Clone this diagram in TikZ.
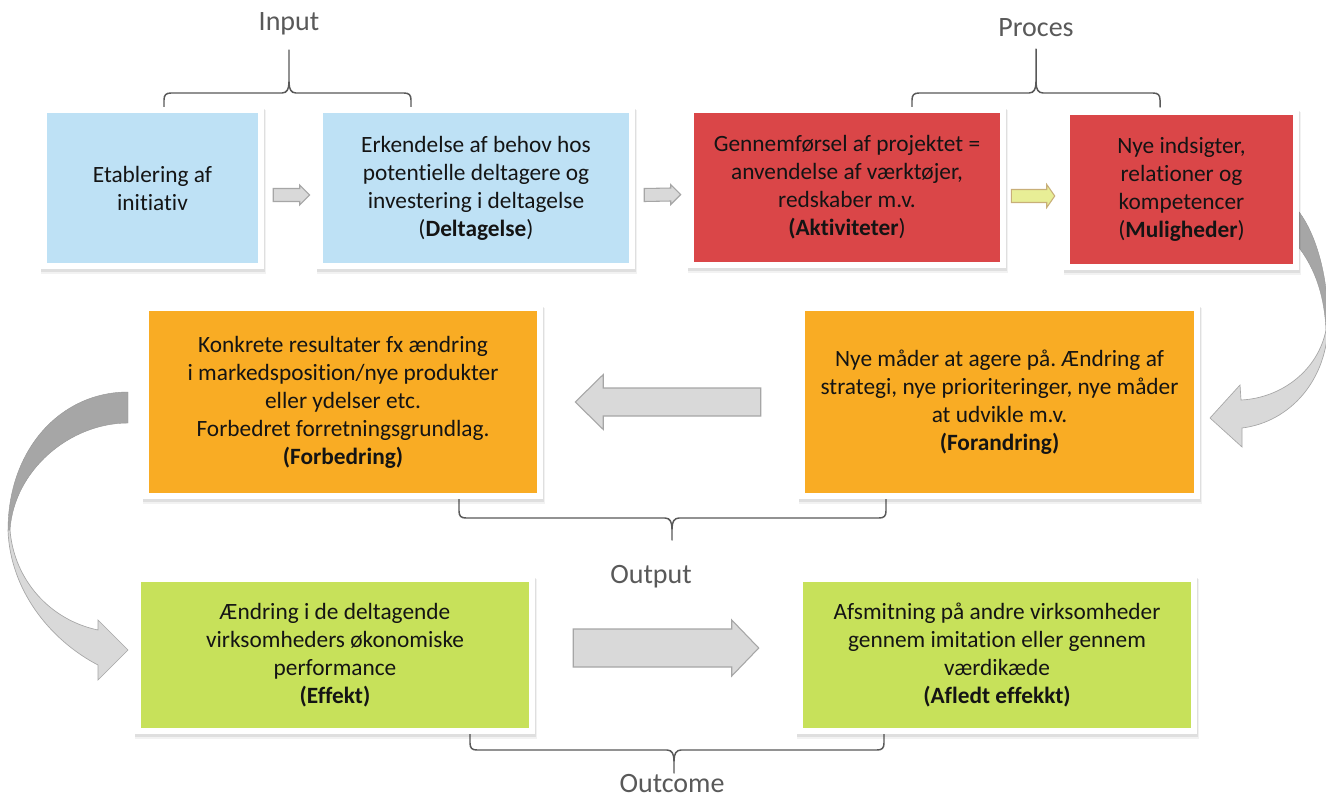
\documentclass[tikz,border=0pt]{standalone}
\usepackage{fontspec}
\setmainfont{Carlito}[Ligatures=NoCommon]
\usetikzlibrary{calc}
\frenchspacing

\definecolor{boxblue}{RGB}{190,225,245}
\definecolor{boxred}{RGB}{218,70,72}
\definecolor{boxorange}{RGB}{249,172,36}
\definecolor{boxgreen}{RGB}{199,225,90}
\definecolor{arrowfill}{RGB}{217,217,217}
\definecolor{arrowline}{RGB}{166,166,166}
\definecolor{arrowdark}{RGB}{166,166,166}
\definecolor{bracegray}{RGB}{89,89,89}
\definecolor{labelgray}{RGB}{89,89,89}
\definecolor{yellowfill}{RGB}{232,238,150}
\definecolor{yellowline}{RGB}{200,175,120}
\definecolor{textdark}{RGB}{20,20,20}

\tikzset{
  card/.style={rectangle, inner sep=0pt, fill=#1, align=center, text=textdark,
    font=\fontsize{17.5}{21}\selectfont,
    preaction={draw=black, draw opacity=0.05, line width=10.5pt, transform canvas={shift={(0.6pt,-3.0pt)}}},
    preaction={draw=black, draw opacity=0.08, line width=9.6pt, transform canvas={shift={(0.3pt,-2.0pt)}}},
    preaction={draw=black!8, line width=9.5pt},
    preaction={draw=white, line width=9pt}},
  brace/.style={draw=bracegray, line width=1.1pt, line cap=round, line join=round},
  grouplabel/.style={text=labelgray, font=\fontsize{21}{25}\selectfont, inner sep=0pt},
  grayarrow/.style={fill=arrowfill, draw=arrowline, line width=0.8pt, line join=miter},
  yellowarrow/.style={fill=yellowfill, draw=yellowline, line width=0.8pt, line join=miter},
  bandback/.style={fill=arrowdark, draw=arrowline!90!black, line width=0.3pt},
  bandfront/.style={fill=arrowfill, draw=arrowline, line width=0.5pt, line join=miter},
}

% straight block arrow: style, tail, tip, shaft half width, head half width, signed head length
\newcommand\blockarrow[6]{%
  \path[#1] ($(#2)+(0,-#4)$) -- ($(#3)+({-(#6)},-#4)$) -- ($(#3)+({-(#6)},-#5)$) -- (#3)
    -- ($(#3)+({-(#6)},#5)$) -- ($(#3)+({-(#6)},#4)$) -- ($(#2)+(0,#4)$) -- cycle;}

\begin{document}
\begin{tikzpicture}[x=0.75pt,y=-0.75pt]
\fill[white] (0,0) rectangle (1326,800);
\useasboundingbox (0,0) rectangle (1326,800);

% group braces
\draw[brace] (164,107) -- (164,100) .. controls (164,95) and (166,93) .. (171,93) -- (282,93)
  .. controls (287,93) and (289,89) .. (289,82) -- (289,50);
\draw[brace] (411,107) -- (411,100) .. controls (411,95) and (409,93) .. (404,93) -- (296,93)
  .. controls (291,93) and (289,89) .. (289,82);
\draw[brace] (912,107) -- (912,100) .. controls (912,95) and (914,93) .. (919,93) -- (1029,93)
  .. controls (1034,93) and (1036,89) .. (1036,82) -- (1036,49);
\draw[brace] (1160,107) -- (1160,100) .. controls (1160,95) and (1158,93) .. (1153,93) -- (1043,93)
  .. controls (1038,93) and (1036,89) .. (1036,82);
\draw[brace] (459,498) -- (459,511) .. controls (459,516) and (461,518) .. (466,518) -- (665,518)
  .. controls (670,518) and (672,522) .. (672,529) -- (672,540);
\draw[brace] (886,498) -- (886,511) .. controls (886,516) and (884,518) .. (879,518) -- (679,518)
  .. controls (674,518) and (672,522) .. (672,529);
\draw[brace] (470,733) -- (470,743) .. controls (470,748) and (472,750) .. (477,750) -- (667,750)
  .. controls (672,750) and (674,754) .. (674,761) -- (674,773);
\draw[brace] (884,733) -- (884,743) .. controls (884,748) and (882,750) .. (877,750) -- (681,750)
  .. controls (676,750) and (674,754) .. (674,761);

% curved ribbon arrow on the right, from the top row down to the middle row
\begin{scope}
  \clip (0,0) rectangle (1326,800);
  \path[bandback] (1285,198) .. controls (1310,215) and (1328,265) .. (1328,322)
    -- (1326,330) .. controls (1324,290) and (1312,258) .. (1285,232) -- cycle;
  \path[bandfront] (1328,322) .. controls (1328,380) and (1290,422) .. (1242,428)
    -- (1242,447) -- (1210,418) -- (1240,385) -- (1241,400)
    .. controls (1282,398) and (1318,370) .. (1326,330) -- cycle;
\end{scope}

% curved ribbon arrow on the left, from the middle row down to the bottom row
\path[bandback] (128,392) .. controls (60,392) and (8,450) .. (8,530)
  -- (10,530) .. controls (14,470) and (70,423) .. (128,423) -- cycle;
\path[bandfront] (8,530) .. controls (10,590) and (50,640) .. (98,665)
  -- (98,680) -- (128,650) -- (98,620) -- (98,630)
  .. controls (50,620) and (14,580) .. (10,530) -- cycle;

% top row
\node[card=boxblue, minimum width=211*0.75pt, minimum height=150*0.75pt] (b1) at (152.5,188)
  {Etablering af\\initiativ};
\node[card=boxblue, minimum width=306*0.75pt, minimum height=150*0.75pt] (b2) at (476,188)
  {Erkendelse af behov hos\\potentielle deltagere og\\investering i deltagelse\\(\textbf{Deltagelse})};
\node[card=boxred, minimum width=306*0.75pt, minimum height=149*0.75pt] (b3) at (847,187.5)
  {Gennemførsel af projektet =\\anvendelse af værktøjer,\\redskaber m.v.\\\textbf{(Aktiviteter})};
\node[card=boxred, minimum width=223*0.75pt, minimum height=149*0.75pt] (b4) at (1181.5,189.5)
  {Nye indsigter,\\relationer og\\kompetencer\\(\textbf{Muligheder})};

% middle row
\node[card=boxorange, minimum width=388*0.75pt, minimum height=182*0.75pt] (o1) at (343,402)
  {Konkrete resultater fx ændring\\i markedsposition/nye produkter\\eller ydelser etc.\\Forbedret forretningsgrundlag.\\\textbf{(Forbedring)}};
\node[card=boxorange, minimum width=389*0.75pt, minimum height=182*0.75pt] (o2) at (999.5,402)
  {Nye måder at agere på. Ændring af\\strategi, nye prioriteringer, nye måder\\at udvikle m.v.\\\textbf{(Forandring)}};

% bottom row
\node[card=boxgreen, minimum width=388*0.75pt, minimum height=146*0.75pt] (g1) at (335,655)
  {Ændring i de deltagende\\virksomheders økonomiske\\performance\\\textbf{(Effekt)}};
\node[card=boxgreen, minimum width=388*0.75pt, minimum height=146*0.75pt] (g2) at (997,655)
  {Afsmitning på andre virksomheder\\gennem imitation eller gennem\\værdikæde\\\textbf{(Afledt effekkt)}};

% straight block arrows between the cards
\coordinate (a1t) at ($(b1.east)+(15,7)$);  \coordinate (a1h) at ($(b2.west)+(-13,7)$);
\coordinate (a2t) at ($(b2.east)+(15,7)$);  \coordinate (a2h) at ($(b3.west)+(-13,7)$);
\coordinate (a3t) at ($(b3.east)+(11,8.5)$); \coordinate (a3h) at ($(b4.west)+(-15,6.5)$);
\coordinate (a4t) at ($(o2.west)+(-44,0)$); \coordinate (a4h) at ($(o1.east)+(38,0)$);
\coordinate (a5t) at ($(g1.east)+(44,-7)$); \coordinate (a5h) at ($(g2.west)+(-44,-7)$);
\blockarrow{grayarrow}{a1t}{a1h}{6.5}{10}{10}
\blockarrow{grayarrow}{a2t}{a2h}{6.5}{10}{10}
\blockarrow{yellowarrow}{a3t}{a3h}{6.5}{11.5}{8}
\blockarrow{grayarrow}{a4t}{a4h}{14}{27.5}{-28}
\blockarrow{grayarrow}{a5t}{a5h}{19}{28}{27}

% group labels
\node[grouplabel] (lin)  at (289,24)  {Input};
\node[grouplabel] (lpr)  at (1036,28) {Proces};
\node[grouplabel] (lout) at (651,577) {Output};
\node[grouplabel] (loc)  at (672,784) {Outcome};
\end{tikzpicture}
\end{document}
